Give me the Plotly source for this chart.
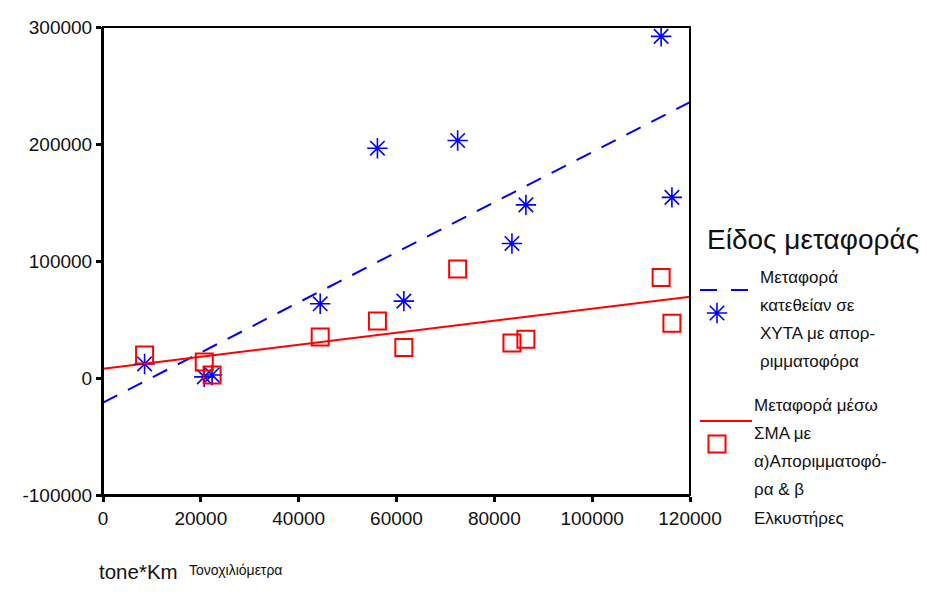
import plotly.graph_objects as go

# Data
x_km = [8500, 20700, 22300, 44400, 56100, 61500, 72500, 83600, 86450, 114100, 116300]
direct_vals = [12000, 1000, 2600, 63400, 196400, 65700, 203000, 115000, 148000, 292000, 154400]
transfer_vals = [19700, 13700, 2600, 35100, 48800, 26000, 93100, 30000, 33100, 85900, 46800]

# Fitted lines (intercept, slope)
direct_fit = (-21000, 2.14)
transfer_fit = (8000, 0.512)
fit_x = [0, 120000]

x_ticks = [0, 20000, 40000, 60000, 80000, 100000, 120000]
y_ticks = [-100000, 0, 100000, 200000, 300000]

legend_title = "Είδος μεταφοράς"
legend_direct = ["Μεταφορά", "κατεθείαν σε", "ΧΥΤΑ με απορ-", "ριμματοφόρα"]
legend_transfer = ["Μεταφορά μέσω", "ΣΜΑ με", "α)Απoριμματοφό-".replace("o", "ο"), "ρα & β", "Ελκυστήρες"]
x_title_main = "tone*Km"
x_title_sub = "Τονοχιλιόμετρα"

BLUE = "#0000ff"
RED = "#ff0000"
FONT = "Liberation Sans, Arial, sans-serif"

W, H = 927, 595
PL, PR, PT, PB = 103, 690, 27, 495  # plot area in pixels


def fx(px):
    return px / W


def fy(py):
    return (H - py) / H


fig = go.Figure()

fig.add_trace(go.Scatter(
    x=fit_x, y=[direct_fit[0] + direct_fit[1] * v for v in fit_x],
    mode="lines", line=dict(color=BLUE, width=2, dash="16px,12px"),
    showlegend=False, hoverinfo="skip"))
fig.add_trace(go.Scatter(
    x=fit_x, y=[transfer_fit[0] + transfer_fit[1] * v for v in fit_x],
    mode="lines", line=dict(color=RED, width=2),
    showlegend=False, hoverinfo="skip"))

star = dict(symbol="asterisk-open", size=17, color=BLUE, line=dict(color=BLUE, width=1.6))
square = dict(symbol="square-open", size=17, color=RED, line=dict(color=RED, width=2))

fig.add_trace(go.Scatter(x=x_km, y=direct_vals, mode="markers", marker=star, showlegend=False))
fig.add_trace(go.Scatter(x=x_km, y=transfer_vals, mode="markers", marker=square, showlegend=False))

# Legend markers on overlay axes
fig.add_trace(go.Scatter(x=[0.5], y=[0.5], xaxis="x2", yaxis="y2", mode="markers",
                         marker=star, showlegend=False, hoverinfo="skip"))
fig.add_trace(go.Scatter(x=[0.5], y=[0.5], xaxis="x3", yaxis="y3", mode="markers",
                         marker=square, showlegend=False, hoverinfo="skip"))

TXT = "#111111"
annotations = [dict(text=legend_title, x=fx(705), y=fy(239), xref="paper", yref="paper",
                    xanchor="left", yanchor="middle", showarrow=False,
                    font=dict(family=FONT, size=28, color=TXT))]
for i, t in enumerate(legend_direct):
    annotations.append(dict(text=t, x=fx(758), y=fy(277 + i * 28), xref="paper", yref="paper",
                            xanchor="left", yanchor="middle", showarrow=False,
                            font=dict(family=FONT, size=17, color=TXT)))
for i, t in enumerate(legend_transfer):
    annotations.append(dict(text=t, x=fx(752), y=fy(405 + i * 28.3), xref="paper", yref="paper",
                            xanchor="left", yanchor="middle", showarrow=False,
                            font=dict(family=FONT, size=17, color=TXT)))
annotations.append(dict(text=x_title_main, x=fx(97), y=fy(571), xref="paper", yref="paper",
                        xanchor="left", yanchor="middle", showarrow=False,
                        font=dict(family=FONT, size=20.5, color=TXT)))
annotations.append(dict(text=x_title_sub, x=fx(187), y=fy(570), xref="paper", yref="paper",
                        xanchor="left", yanchor="middle", showarrow=False,
                        font=dict(family=FONT, size=14, color=TXT)))

shapes = [
    dict(type="line", xref="paper", yref="paper", x0=fx(700), x1=fx(752),
         y0=fy(290), y1=fy(290), line=dict(color=BLUE, width=2, dash="17px,14px")),
    dict(type="line", xref="paper", yref="paper", x0=fx(700), x1=fx(752),
         y0=fy(421), y1=fy(421), line=dict(color=RED, width=2)),
    dict(type="rect", xref="paper", yref="paper", x0=fx(PL), x1=fx(PR), y0=fy(PB), y1=fy(PT),
         line=dict(color="#000000", width=2), layer="above"),
]


def dom(cx, cy, half=12):
    return [(cx - half) / W, (cx + half) / W], [(H - cy - half) / H, (H - cy + half) / H]


d2x, d2y = dom(717, 313)
d3x, d3y = dom(717, 444)

axis_common = dict(showgrid=False, zeroline=False, ticks="outside", ticklen=5, tickwidth=3,
                   tickcolor="#000000", showline=True, linecolor="#000000", linewidth=2,
                   automargin=False,
                   tickfont=dict(family=FONT, size=19, color=TXT))
hidden = dict(range=[0, 1], visible=False, automargin=False, fixedrange=True)

fig.update_layout(
    width=W, height=H,
    margin=dict(l=0, r=0, t=0, b=0, autoexpand=False),
    plot_bgcolor="white", paper_bgcolor="white",
    xaxis=dict(domain=[fx(PL), fx(PR)], range=[0, 120000], tickvals=x_ticks,
               ticktext=[str(v) for v in x_ticks], anchor="y", **axis_common),
    yaxis=dict(domain=[fy(PB), fy(PT)], range=[-100000, 300000], tickvals=y_ticks,
               ticktext=[str(v) for v in y_ticks], anchor="x", **axis_common),
    xaxis2=dict(domain=d2x, anchor="y2", **hidden),
    yaxis2=dict(domain=d2y, anchor="x2", **hidden),
    xaxis3=dict(domain=d3x, anchor="y3", **hidden),
    yaxis3=dict(domain=d3y, anchor="x3", **hidden),
    annotations=annotations,
    shapes=shapes,
    showlegend=False,
)

fig.write_html("out.html")
